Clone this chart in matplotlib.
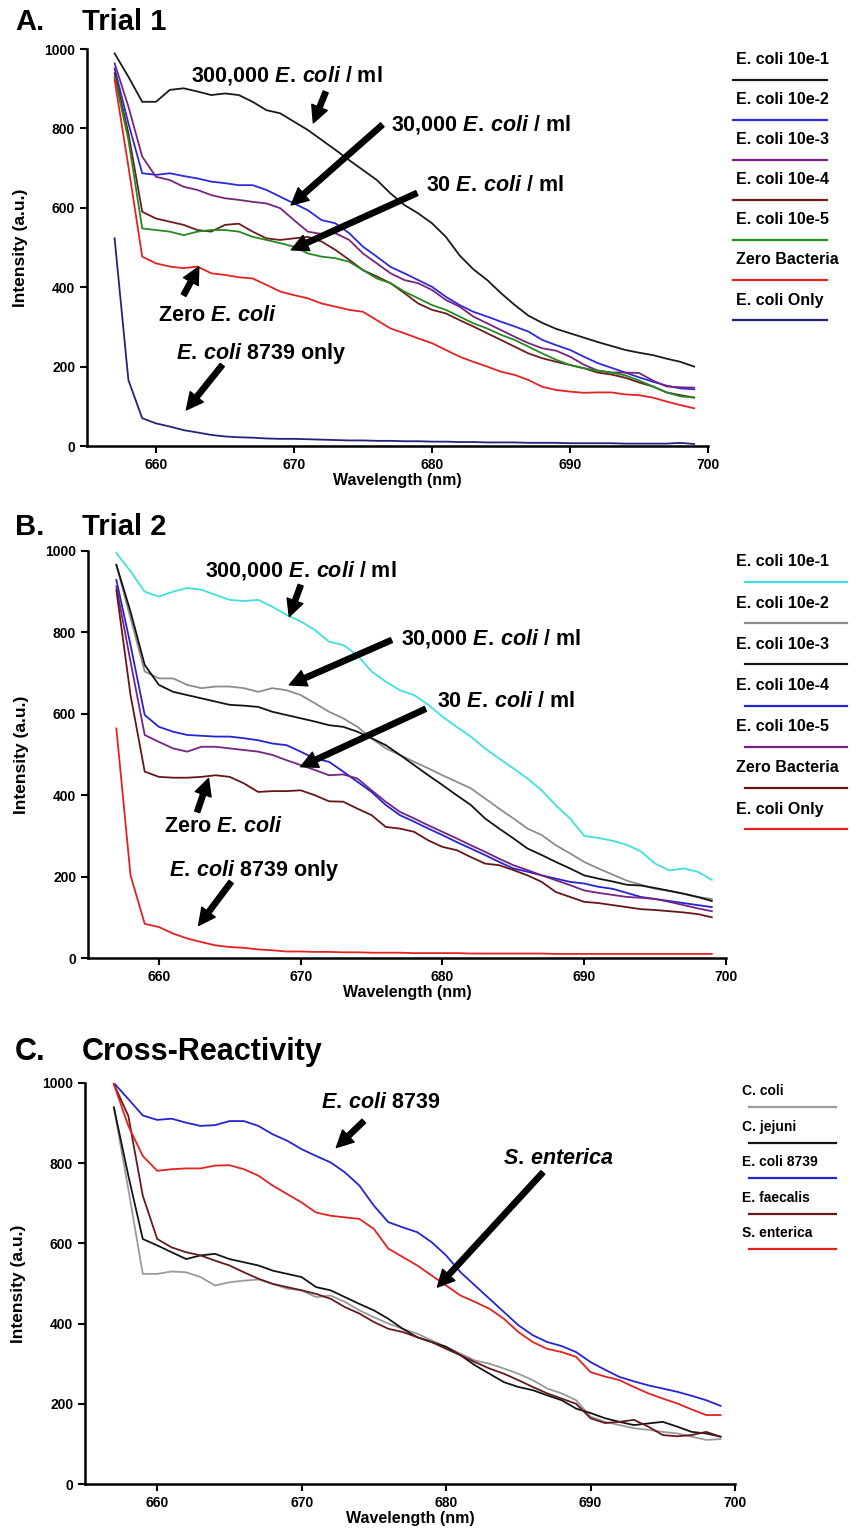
import numpy as np
import matplotlib
matplotlib.use("Agg")
import matplotlib.pyplot as plt
from matplotlib.lines import Line2D

# wavelength grid (nm)
wl = list(range(657, 700))

# ---- Trial 1 ----
t1_labels = ["E. coli 10e-1", "E. coli 10e-2", "E. coli 10e-3", "E. coli 10e-4",
             "E. coli 10e-5", "Zero Bacteria", "E. coli Only"]
t1_colors = ["#1a1a1a", "#2b2bdc", "#7a2480", "#6e1c1c", "#228b22", "#e32222", "#23237a"]
t1_e1 = [989, 930, 867, 867, 897, 901, 893, 884, 888, 884, 867, 846, 838, 817, 796, 771,
         746, 720, 695, 670, 636, 607, 586, 561, 527, 480, 445, 418, 385, 355, 328, 310,
         295, 284, 273, 262, 252, 242, 235, 229, 220, 212, 200]
t1_e2 = [951, 813, 687, 683, 687, 680, 674, 666, 662, 657, 657, 645, 628, 611, 594, 569,
         561, 536, 502, 477, 451, 435, 418, 401, 376, 355, 338, 326, 313, 301, 288, 267,
         254, 242, 225, 209, 197, 185, 173, 162, 152, 145, 143]
t1_e3 = [964, 855, 729, 678, 670, 653, 645, 632, 624, 620, 615, 611, 599, 569, 540, 534,
         536, 519, 485, 460, 435, 418, 410, 393, 368, 351, 326, 309, 292, 275, 259, 246,
         240, 225, 205, 190, 185, 185, 184, 165, 150, 148, 147]
t1_e4 = [939, 788, 590, 573, 565, 557, 544, 540, 557, 560, 540, 523, 519, 523, 527, 515,
         494, 469, 443, 427, 410, 385, 359, 343, 334, 317, 301, 284, 267, 250, 233, 221,
         212, 204, 196, 185, 180, 172, 160, 150, 135, 128, 122]
t1_e5 = [930, 771, 548, 544, 540, 531, 540, 544, 544, 540, 527, 519, 511, 502, 485, 477,
         473, 464, 443, 422, 410, 389, 372, 355, 343, 326, 309, 296, 280, 267, 250, 233,
         217, 204, 196, 190, 185, 178, 165, 150, 135, 125, 122]
t1_zero = [922, 704, 477, 460, 452, 448, 452, 435, 431, 425, 422, 406, 389, 380, 372, 359,
           351, 343, 338, 317, 296, 284, 271, 259, 242, 225, 212, 200, 187, 179, 166, 149,
           141, 137, 134, 135, 135, 130, 128, 122, 112, 103, 95]
t1_only = [523, 166, 70, 57, 49, 40, 34, 28, 24, 22, 21, 19, 18, 18, 17, 16, 15, 14, 14,
           13, 13, 12, 12, 11, 11, 10, 10, 9, 9, 9, 8, 8, 8, 7, 7, 7, 7, 6, 6, 6, 6, 8, 5]

# ---- Trial 2 ----
t2_labels = t1_labels
t2_colors = ["#3fe0e0", "#8c8c8c", "#141414", "#2424d4", "#742482", "#661616", "#e32222"]
t2_e1 = [995, 950, 900, 888, 900, 909, 905, 892, 880, 877, 880, 863, 843, 827, 806, 777,
         769, 744, 704, 679, 658, 646, 622, 593, 568, 544, 515, 490, 466, 441, 412, 375,
         343, 300, 295, 288, 278, 262, 232, 215, 220, 212, 192]
t2_e2 = [966, 835, 704, 687, 687, 671, 663, 667, 667, 663, 654, 663, 658, 646, 626, 605,
         589, 568, 540, 515, 499, 482, 466, 449, 433, 417, 392, 367, 343, 318, 302, 277,
         257, 236, 220, 205, 190, 180, 170, 165, 158, 150, 145]
t2_e3 = [966, 851, 720, 671, 654, 646, 638, 630, 622, 620, 617, 605, 597, 589, 581, 572,
         568, 556, 540, 523, 499, 474, 449, 425, 400, 376, 343, 318, 294, 269, 253, 236,
         220, 203, 195, 188, 180, 178, 172, 165, 158, 150, 140]
t2_e4 = [929, 769, 597, 568, 556, 548, 546, 544, 544, 540, 535, 527, 523, 507, 490, 482,
         458, 433, 408, 376, 351, 335, 318, 302, 285, 269, 253, 236, 220, 212, 203, 195,
         187, 183, 175, 170, 160, 150, 145, 140, 135, 130, 125]
t2_e5 = [913, 728, 548, 531, 515, 507, 519, 519, 515, 511, 507, 499, 486, 474, 462, 449,
         451, 441, 412, 384, 359, 343, 326, 310, 294, 277, 261, 244, 228, 216, 203, 191,
         179, 166, 160, 155, 150, 148, 145, 138, 130, 122, 115]
t2_zero = [904, 646, 458, 445, 443, 443, 445, 449, 445, 429, 408, 410, 410, 412, 400, 385,
           384, 367, 351, 322, 318, 310, 289, 273, 265, 248, 232, 228, 216, 203, 187, 162,
           150, 138, 135, 130, 125, 120, 118, 115, 112, 108, 100]
t2_only = [564, 203, 84, 76, 60, 48, 39, 31, 27, 25, 21, 19, 16, 16, 15, 15, 14, 14, 13,
           13, 13, 12, 12, 12, 12, 11, 11, 11, 11, 11, 11, 10, 10, 10, 10, 10, 10, 10, 10,
           10, 10, 10, 10]

# ---- Cross-reactivity ----
c_labels = ["C. coli", "C. jejuni", "E. coli 8739", "E. faecalis", "S. enterica"]
c_colors = ["#9a9a9a", "#141414", "#2424d4", "#661a1a", "#e32222"]
c_ccoli = [939, 735, 524, 524, 530, 528, 516, 495, 503, 507, 510, 499, 487, 483, 466, 470,
           454, 433, 416, 400, 387, 375, 358, 342, 325, 308, 300, 288, 275, 259, 238, 226,
           209, 168, 155, 147, 139, 135, 130, 126, 118, 110, 112]
c_cjej = [939, 769, 611, 595, 578, 561, 570, 574, 561, 553, 545, 532, 524, 516, 491, 483,
          466, 449, 433, 412, 387, 366, 354, 342, 321, 296, 275, 254, 242, 234, 221, 209,
          188, 177, 164, 155, 147, 151, 155, 143, 130, 126, 118]
c_ecoli = [1000, 960, 919, 908, 911, 901, 893, 895, 905, 905, 893, 872, 856, 835, 818, 802,
           777, 744, 694, 653, 640, 628, 603, 570, 528, 495, 462, 429, 396, 371, 354, 344,
           329, 304, 285, 267, 256, 246, 238, 230, 220, 209, 195]
c_efae = [997, 918, 719, 611, 590, 578, 570, 557, 545, 528, 512, 499, 491, 483, 474, 462,
          441, 425, 404, 387, 379, 366, 354, 337, 321, 304, 288, 275, 259, 242, 226, 213,
          200, 164, 152, 155, 160, 143, 122, 119, 122, 130, 118]
c_sent = [997, 893, 818, 781, 785, 787, 787, 794, 795, 785, 769, 744, 723, 702, 677, 669,
          665, 661, 636, 587, 566, 545, 520, 495, 470, 454, 437, 412, 379, 354, 337, 329,
          317, 279, 268, 259, 242, 226, 213, 201, 186, 172, 172]

plt.rcParams['font.family'] = ['Liberation Sans', 'DejaVu Sans']
plt.rcParams['font.weight'] = 'bold'
plt.rcParams['mathtext.fontset'] = 'custom'
plt.rcParams['mathtext.rm'] = 'Liberation Sans:bold'
plt.rcParams['mathtext.it'] = 'Liberation Sans:italic:bold'
plt.rcParams['mathtext.bf'] = 'Liberation Sans:bold'

W, H = 856, 1529
fig = plt.figure(figsize=(W / 100, H / 100), dpi=100)

ECOLI = r"$E.\,coli$"
ANN_FS = 15.5


def px_axes(x0, x1, ytop, ybot):
    return fig.add_axes([x0 / W, 1 - ybot / H, (x1 - x0) / W, (ybot - ytop) / H])


def style_axes(ax):
    ax.set_xlim(655, 700)
    ax.set_ylim(0, 1000)
    ax.set_xticks([660, 670, 680, 690, 700])
    ax.set_yticks([0, 200, 400, 600, 800, 1000])
    for s in ["top", "right"]:
        ax.spines[s].set_visible(False)
    for s in ["left", "bottom"]:
        ax.spines[s].set_linewidth(1.8)
    ax.tick_params(direction="out", length=5, width=1.5, labelsize=10)
    for lab in ax.get_xticklabels() + ax.get_yticklabels():
        lab.set_fontweight("bold")
    ax.set_xlabel("Wavelength (nm)", fontsize=11.5, fontweight="bold", labelpad=1)
    ax.set_ylabel("Intensity (a.u.)", fontsize=12.5, fontweight="bold", labelpad=12)


def legend_block(labels, colors, tx, lx0, lx1, ytext0, yline0, dy, fs):
    for i, (lab, col) in enumerate(zip(labels, colors)):
        fig.text(tx / W, 1 - (ytext0 + i * dy) / H, lab, fontsize=fs,
                 fontweight="bold", va="center", ha="left")
        yl = 1 - (yline0 + i * dy) / H
        fig.add_artist(Line2D([lx0 / W, lx1 / W], [yl, yl], color=col, lw=1.6,
                              transform=fig.transFigure))


def arrow(ax, tail, tip):
    ax.annotate("", xy=tip, xytext=tail,
                arrowprops=dict(facecolor="black", edgecolor="black", width=3.8,
                                headwidth=12, headlength=12, shrink=0))


def panel_title(letter, title, y, fs=21):
    fig.text(15 / W, 1 - y / H, letter, fontsize=fs, fontweight="bold", va="center")
    fig.text(82 / W, 1 - y / H, title, fontsize=fs, fontweight="bold", va="center")


# ---------- A ----------
axA = px_axes(87, 708, 49, 446)
for ys, c in zip([t1_e1, t1_e2, t1_e3, t1_e4, t1_e5, t1_zero, t1_only], t1_colors):
    axA.plot(wl, ys, color=c, lw=1.3)
style_axes(axA)
panel_title("A.", "Trial 1", 22)
legend_block(t1_labels, t1_colors, 736, 733, 827, 60, 80, 40, 11.5)

axA.text(669.5, 932, "300,000 " + ECOLI + " / ml", fontsize=ANN_FS, ha="center", va="center")
arrow(axA, (672.3, 892), (671.4, 814))
axA.text(677.0, 811, "30,000 " + ECOLI + " / ml", fontsize=ANN_FS, ha="left", va="center")
arrow(axA, (676.4, 809), (669.8, 607))
axA.text(679.6, 655, "30 " + ECOLI + " / ml", fontsize=ANN_FS, ha="left", va="center")
arrow(axA, (678.9, 637), (669.8, 494))
axA.text(664.5, 329, "Zero " + ECOLI, fontsize=ANN_FS, ha="center", va="center")
arrow(axA, (662.0, 380), (663.1, 451))
axA.text(667.6, 232, ECOLI + " 8739 only", fontsize=ANN_FS, ha="center", va="center")
arrow(axA, (664.8, 204), (662.2, 91))

# ---------- B ----------
axB = px_axes(88, 726, 551, 958)
for ys, c in zip([t2_e1, t2_e2, t2_e3, t2_e4, t2_e5, t2_zero, t2_only], t2_colors):
    axB.plot(wl, ys, color=c, lw=1.3)
style_axes(axB)
panel_title("B.", "Trial 2", 527)
legend_block(t2_labels, t2_colors, 736, 745, 847, 562, 582, 41.2, 11.5)

axB.text(670.0, 953, "300,000 " + ECOLI + " / ml", fontsize=ANN_FS, ha="center", va="center")
arrow(axB, (670.0, 916), (669.2, 839))
axB.text(677.1, 786, "30,000 " + ECOLI + " / ml", fontsize=ANN_FS, ha="left", va="center")
arrow(axB, (676.4, 781), (669.2, 671))
axB.text(679.6, 630, "30 " + ECOLI + " / ml", fontsize=ANN_FS, ha="left", va="center")
arrow(axB, (678.8, 612), (670.0, 470))
axB.text(664.6, 322, "Zero " + ECOLI, fontsize=ANN_FS, ha="center", va="center")
arrow(axB, (662.7, 359), (663.5, 441))
axB.text(666.7, 216, ECOLI + " 8739 only", fontsize=ANN_FS, ha="center", va="center")
arrow(axB, (665.1, 187), (662.8, 80))

# ---------- C ----------
axC = px_axes(85, 735, 1083, 1484)
for ys, c in zip([c_ccoli, c_cjej, c_ecoli, c_efae, c_sent], c_colors):
    axC.plot(wl, ys, color=c, lw=1.3)
style_axes(axC)
panel_title("C.", "Cross-Reactivity", 1052, fs=22)
legend_block(c_labels, c_colors, 742, 749, 836, 1091, 1107, 35.5, 10)

axC.text(675.5, 951, ECOLI + " 8739", fontsize=ANN_FS, ha="center", va="center")
arrow(axC, (674.3, 905), (672.4, 839))
axC.text(687.8, 811, r"$S.\,enterica$", fontsize=ANN_FS, ha="center", va="center")
arrow(axC, (686.7, 777), (679.4, 491))

fig.savefig("out.png", dpi=100)
